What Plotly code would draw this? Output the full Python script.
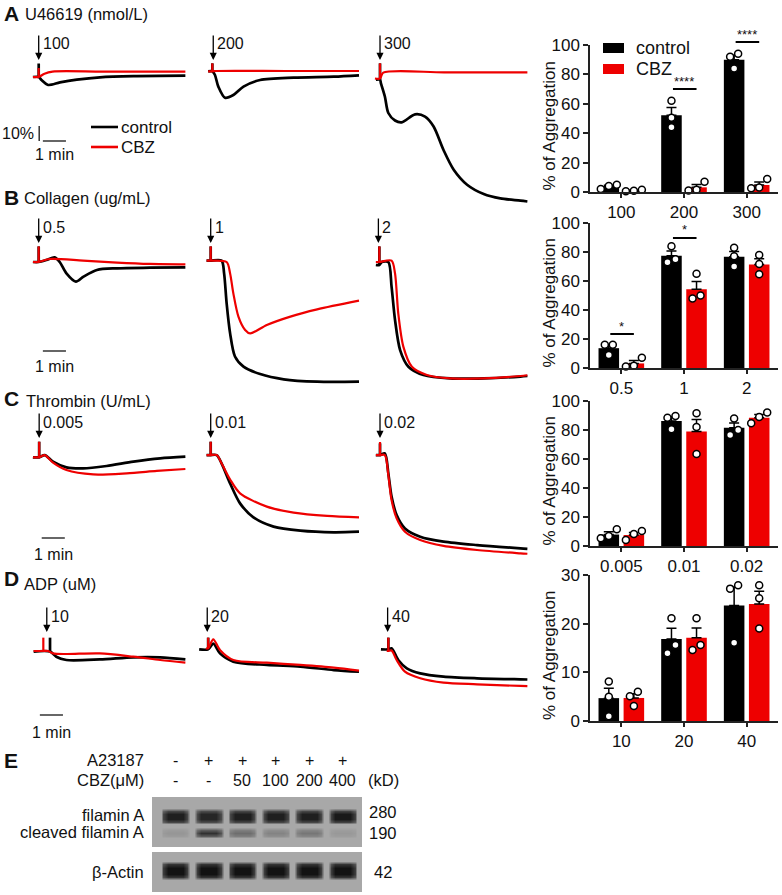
import numpy as np
import plotly.graph_objects as go

W, H = 782, 895
FONT = "Arial, Liberation Sans, sans-serif"
RED = "#EE0000"
BLACK = "#000000"

# ---------------- aggregation traces: time (min) and light-transmission change (%) ----------------
A1_ctrl_t = [0, 0.25, 0.37, 0.66, 1.17, 1.9, 2.9, 4.35, 6.6]
A1_ctrl_v = [0, 0, -2, -5.3, -3.6, -1.8, -0.2, 0.6, 0.9]
A1_cbz_t = [0, 0.25, 0.5, 0.85, 3.0, 6.6]
A1_cbz_v = [0, 0, 2.2, 3.6, 3.6, 3.6]

A2_ctrl_t = [0.14, 0.32, 0.43, 0.58, 0.87, 1.23, 1.67, 2.39, 3.84, 5.58, 6.67]
A2_ctrl_v = [3.8, 3.8, 1.5, -6.4, -13.8, -12, -6.4, -2, -0.4, 0.2, 1.1]
A2_cbz_t = [0.14, 0.32, 0.5, 3.5, 6.67]
A2_cbz_v = [3.8, 3.8, 4, 4, 4]

A3_ctrl_t = [0.04, 0.22, 0.26, 0.43, 0.58, 0.87, 1.16, 1.74, 2.17, 2.54, 2.97, 3.41, 3.99, 4.71, 5.43, 6.3, 6.6]
A3_ctrl_v = [-1.8, -1.8, -4.2, -13, -24, -29, -30.2, -24.9, -26.4, -33, -48.7, -61.8, -71.8, -78, -80.9, -82.4, -83]
A3_cbz_t = [0, 0.22, 0.36, 3.0, 6.6]
A3_cbz_v = [-1, -1, 2.9, 3.1, 3.1]

B1_ctrl_t = [0, 0.25, 0.58, 0.94, 1.16, 1.45, 1.86, 2.19, 2.77, 3.64, 5.07, 6.6]
B1_ctrl_v = [0, 0, 1.3, 3.1, 0, -7.6, -13.1, -9.8, -5.3, -4.2, -3.8, -3.6]
B1_cbz_t = [0, 0.25, 0.72, 2.17, 3.64, 5.07, 6.6]
B1_cbz_v = [0, 0, 2, 0.9, -0.4, -1.3, -1.6]

B2_ctrl_t = [0.07, 0.25, 0.72, 0.83, 0.94, 1.09, 1.3, 1.67, 2.39, 3.41, 4.86, 6.67]
B2_ctrl_v = [0.9, 0.9, 0.9, -7.6, -27.6, -47.6, -63, -69.8, -74.7, -78.2, -79.8, -79.8]
B2_cbz_t = [0.07, 0.25, 0.94, 1.09, 1.23, 1.45, 1.74, 1.96, 2.68, 3.7, 4.86, 6.67]
B2_cbz_v = [0.9, 0.9, 0, -7.6, -20.9, -36.4, -45.3, -47.6, -42, -36.4, -31.6, -25.8]

B3_ctrl_t = [0.04, 0.19, 0.3, 0.58, 0.72, 0.87, 1.09, 1.45, 2.1, 3.26, 4.71, 6.3, 6.6]
B3_ctrl_v = [-2, -2, 0, 0, -16.4, -38.7, -58.7, -69.8, -75.3, -77.6, -77.6, -76.4, -76]
B3_cbz_t = [0.04, 0.19, 0.72, 0.87, 1.01, 1.23, 1.6, 2.25, 3.26, 4.71, 6.3, 6.6]
B3_cbz_v = [0, 0, 0.9, -7.6, -34.2, -56.4, -69.8, -75.3, -77.6, -77.6, -76, -75.5]

C1_ctrl_t = [0, 0.27, 0.51, 0.87, 1.45, 2.17, 3.19, 4.35, 5.51, 6.6]
C1_ctrl_v = [-0.2, -0.2, 1.3, -3.1, -6.9, -7.6, -6, -3.1, -0.9, 0.2]
C1_cbz_t = [0, 0.27, 0.51, 0.87, 1.45, 2.61, 4.06, 5.36, 6.6]
C1_cbz_v = [-0.2, -0.2, 1.3, -3.8, -8.7, -11.6, -10.9, -9.3, -8]

C2_ctrl_t = [0.07, 0.25, 0.51, 0.72, 1.09, 1.52, 2.1, 2.97, 4.13, 5.58, 6.67]
C2_ctrl_v = [1.3, 1.3, 1.3, -4.2, -17.6, -30.9, -40.2, -46.4, -49.1, -50.2, -49.8]
C2_cbz_t = [0.07, 0.25, 0.51, 0.72, 1.09, 1.52, 2.68, 3.84, 5.29, 6.67]
C2_cbz_v = [1.3, 1.3, 1.3, -4.2, -15, -24.2, -33.1, -37.1, -39.3, -40.2]

C3_ctrl_t = [0.04, 0.22, 0.43, 0.58, 0.72, 0.94, 1.3, 1.96, 2.97, 4.42, 6.3, 6.6]
C3_ctrl_v = [1.3, 1.3, 2.4, -10.9, -26.4, -38.7, -47.6, -53.1, -56.4, -58.7, -60.9, -61.2]
C3_cbz_t = [0.04, 0.22, 0.43, 0.58, 0.72, 0.94, 1.3, 1.96, 2.97, 4.42, 6.3, 6.6]
C3_cbz_v = [1.3, 1.3, 1.3, -12, -28.7, -40.9, -49.8, -55.3, -59.3, -62, -64.2, -64.5]

D1_ctrl_t = [0.03, 0.74, 1.01, 1.45, 2.9, 4.35, 5.51, 6.6]
D1_ctrl_v = [-0.4, -0.4, -3.8, -6, -5.6, -4.2, -4.2, -5.6]
D1_cbz_t = [0.03, 0.45, 0.66, 0.87, 1.45, 2.9, 4.35, 5.51, 6.6]
D1_cbz_v = [0, 0, 0, -1.6, -2, -1.6, -3.8, -6, -7.8]

D2_ctrl_t = [-0.25, 0.14, 0.36, 0.65, 1.23, 2.68, 4.13, 5.58, 6.67]
D2_ctrl_v = [1.1, 1.1, 5.0, -1.6, -7.1, -9.3, -10.4, -12.7, -13.8]
D2_cbz_t = [0.04, 0.14, 0.36, 0.65, 1.23, 2.68, 4.13, 5.58, 6.67]
D2_cbz_v = [1.8, 1.8, 7.8, 0.7, -6, -7.8, -9.3, -11.1, -13.1]

D3_ctrl_t = [0.26, 0.58, 0.72, 1.01, 1.38, 1.96, 2.97, 4.42, 6.3, 6.6]
D3_ctrl_v = [1.1, 1.1, 1.8, -6, -11.6, -14.9, -17.1, -18.2, -18.9, -19]
D3_cbz_t = [0.51, 0.58, 0.72, 0.94, 1.3, 1.96, 2.97, 4.42, 6.3, 6.6]
D3_cbz_v = [0, 0, 0.4, -6, -13.8, -18.2, -21.1, -22.2, -23.3, -23.4]

# injection artefact spikes: (time, top value) for control / CBZ
spikes_ctrl = {"A1": (0.25, 9), "A2": (0.32, 9.1), "A3": (0.22, 9.1),
               "B1": (0.25, 10.4), "B2": (0.25, 10.4), "B3": (0.19, 10.4),
               "C1": (0.27, 10.2), "C2": (0.25, 10.2), "C3": (0.22, 9.1),
               "D1": (0.74, 8.9), "D2": (0.14, 8.9), "D3": (0.58, 8.9)}
spikes_cbz = {"A1": (0.25, 6), "A2": (0.32, 9.1), "A3": (0.22, 9.1),
              "B1": (0.25, 10.4), "B2": (0.25, 10.4), "B3": (0.19, 10.4),
              "C1": (0.27, 10.2), "C2": (0.25, 10.2), "C3": (0.22, 10),
              "D1": (0.45, 8.9), "D2": (0.14, 8.9), "D3": (0.58, 8.9)}
arrow_times = {"A": [0.25, 0.36, 0.22], "B": [0.25, 0.25, 0.15],
               "C": [0.27, 0.25, 0.22], "D": [0.6, 0.1, 0.55]}

row_titles = {"A": "U46619 (nmol/L)", "B": "Collagen (ug/mL)", "C": "Thrombin (U/mL)", "D": "ADP (uM)"}
dose_labels = {"A": ["100", "200", "300"], "B": ["0.5", "1", "2"],
               "C": ["0.005", "0.01", "0.02"], "D": ["10", "20", "40"]}
series_names = ["control", "CBZ"]

# ---------------- bar charts: individual % aggregation values (n = 3) ----------------
cats_A = ["100", "200", "300"]
ctrl_A = [[2, 5, 4], [62, 50.5, 44], [94, 92, 84]]
cbz_A = [[0.5, 1.5, 0.8], [1, 7, 1.5], [2.5, 8.8, 3]]

cats_B = ["0.5", "1", "2"]
ctrl_B = [[16, 9, 16], [73, 84, 75], [83, 77, 70]]
cbz_B = [[1, 7, 1.5], [48, 65, 50], [78, 71.7, 64.6]]

cats_C = ["0.005", "0.01", "0.02"]
ctrl_C = [[5.3, 11.5, 6.9], [89.7, 88.5, 80.5], [88, 80, 76.5]]
cbz_C = [[4.1, 10.3, 8.3], [91.5, 82, 63.5], [92, 89, 84.6]]

cats_D = ["10", "20", "40"]
ctrl_D = [[8.1, 5, 1], [21.1, 13.9, 15.6], [27.9, 27.2, 16.1]]
cbz_D = [[6, 5.1, 3.1], [21.1, 14.6, 15.6], [27.9, 25.2, 19]]

# significance marks: (group index, label, bar-line level in % aggregation)
sig_A = [(1, "****", 70), (2, "****", 102)]
sig_B = [(0, "*", 23.4), (1, "*", 89.7)]

# ---------------- western blot (E) ----------------
lanes_A23187 = ["-", "+", "+", "+", "+", "+"]
lanes_CBZ = ["-", "-", "50", "100", "200", "400"]
band_filamin = [0.92, 0.88, 0.92, 0.92, 0.92, 0.96]
band_cleaved = [0.14, 0.82, 0.45, 0.28, 0.38, 0.12]
band_actin = [1.0, 1.0, 1.0, 1.0, 1.0, 1.0]

# =====================================================================
def PX(x):
    return x / W


def PY(y):
    return 1 - y / H


fig = go.Figure()
layout = {}
annotations = []
shapes = []


def add_axes(n, xd, yd, xr, yr, xkw=None, ykw=None):
    s = "" if n == 1 else str(n)
    xa = dict(domain=[PX(xd[0]), PX(xd[1])], range=xr, anchor="y" + s, visible=False,
              showgrid=False, zeroline=False, fixedrange=True, automargin=False)
    ya = dict(domain=[PY(yd[1]), PY(yd[0])], range=yr, anchor="x" + s, visible=False,
              showgrid=False, zeroline=False, fixedrange=True, automargin=False)
    if xkw:
        xa.update(xkw)
    if ykw:
        ya.update(ykw)
    layout["xaxis" + s] = xa
    layout["yaxis" + s] = ya
    return "x" + s, "y" + s


# ---------------- trace panels ----------------
ROWS = {"A": (77, 30, 208), "B": (262, 215, 392), "C": (457, 405, 565), "D": (651, 590, 745)}
COLS = [(26, 190), (198, 362), (368, 532)]
T_RANGE = [-0.3, 6.8]
PPP = 1.5  # px per %
ARROW_TIP = {"A": 60, "B": 243, "C": 438, "D": 632}
g = globals()

axis_n = 0
row_axes = {}
for r, (base, top, bot) in ROWS.items():
    yr = [-(bot - base) / PPP, (base - top) / PPP]
    for c in range(3):
        axis_n += 1
        xa, ya = add_axes(axis_n, COLS[c], (top, bot), T_RANGE, yr)
        row_axes[(r, c)] = (xa, ya)
        key = f"{r}{c + 1}"
        for kind, color, width, name, sp in [("ctrl", BLACK, 2.7, "control", spikes_ctrl),
                                             ("cbz", RED, 2.2, "CBZ", spikes_cbz)]:
            t = g[f"{key}_{kind}_t"]
            v = g[f"{key}_{kind}_v"]
            st, sv = sp[key]
            fig.add_trace(go.Scatter(x=[st, st], y=[float(np.interp(st, t, v)), sv], mode="lines",
                                     line=dict(color=color, width=width), xaxis=xa, yaxis=ya,
                                     showlegend=False, hoverinfo="skip"))
            fig.add_trace(go.Scatter(x=t, y=v, mode="lines",
                                     line=dict(color=color, width=width, shape="spline", smoothing=0.8),
                                     xaxis=xa, yaxis=ya, name=name, showlegend=False))
        # stimulus arrow + dose label
        at = arrow_times[r][c]
        tip = ARROW_TIP[r]
        annotations.append(dict(x=at, xref=xa, y=PY(tip), yref="paper", text="", showarrow=True,
                                ax=0, ay=-26, arrowhead=2, arrowsize=1.1, arrowwidth=1.3,
                                arrowcolor=BLACK))
        annotations.append(dict(x=at, xref=xa, y=PY(tip - 16), yref="paper", text=dose_labels[r][c],
                                showarrow=False, xanchor="left", yanchor="middle", xshift=2,
                                font=dict(size=16)))

# panel letters and titles
for letter, ly, tx, ty in [("A", 13, 23, 14), ("B", 197, 22, 198), ("C", 399, 24, 401),
                           ("D", 578, 22, 584), ("E", 760, None, None)]:
    annotations.append(dict(x=PX(2), y=PY(ly), xref="paper", yref="paper", text=f"<b>{letter}</b>",
                            showarrow=False, xanchor="left", yanchor="middle", font=dict(size=21)))
    if tx is not None:
        annotations.append(dict(x=PX(tx), y=PY(ty), xref="paper", yref="paper", text=row_titles[letter],
                                showarrow=False, xanchor="left", yanchor="middle", font=dict(size=16.5)))

# scale bars (1 min, 10 %)
SB = {"A": (0.43, 141, 155), "B": (0.43, 351, 367), "C": (0.38, 538, 554), "D": (0.3, 715, 732)}
for r, (t0, ypx, typx) in SB.items():
    base = ROWS[r][0]
    xa, ya = row_axes[(r, 0)]
    yv = (base - ypx) / PPP
    shapes.append(dict(type="line", xref=xa, yref=ya, x0=t0, x1=t0 + 1, y0=yv, y1=yv,
                       line=dict(color=BLACK, width=1.2)))
    annotations.append(dict(x=t0 + 0.5, xref=xa, y=PY(typx), yref="paper", text="1 min",
                            showarrow=False, xanchor="center", yanchor="middle", font=dict(size=16)))
    if r == "A":
        shapes.append(dict(type="line", xref=xa, yref=ya, x0=0.27, x1=0.27, y0=yv, y1=yv + 10,
                           line=dict(color=BLACK, width=1.2)))
        annotations.append(dict(x=PX(36), y=PY(133), xref="paper", yref="paper", text="10%",
                                showarrow=False, xanchor="right", yanchor="middle", font=dict(size=16)))

# trace legend (line swatches) in panel A
for i, (nm, col) in enumerate(zip(series_names, [BLACK, RED])):
    yy = 127 + 20 * i
    shapes.append(dict(type="line", xref="paper", yref="paper", x0=PX(91), x1=PX(118),
                       y0=PY(yy), y1=PY(yy), line=dict(color=col, width=2.6)))
    annotations.append(dict(x=PX(119), y=PY(yy), xref="paper", yref="paper", text=nm, showarrow=False,
                            xanchor="left", yanchor="middle", font=dict(size=17)))

# ---------------- bar charts ----------------
BAR_X = (590, 778)
BARS = {"A": ((45, 192), 100, [0, 20, 40, 60, 80, 100], cats_A, ctrl_A, cbz_A, sig_A),
        "B": ((223, 368), 100, [0, 20, 40, 60, 80, 100], cats_B, ctrl_B, cbz_B, sig_B),
        "C": ((401, 546), 100, [0, 20, 40, 60, 80, 100], cats_C, ctrl_C, cbz_C, []),
        "D": ((575, 721), 30, [0, 10, 20, 30], cats_D, ctrl_D, cbz_D, [])}
OFF = 0.2
X_PX_UNIT = (BAR_X[1] - BAR_X[0]) / 3.0


def swarm(vals, ypx_unit, thresh=8.6, step=8.0):
    vals = np.asarray(vals, float)
    order = np.argsort(vals)
    offs = np.zeros(len(vals))
    clusters, cur = [], [order[0]]
    for a, b in zip(order[:-1], order[1:]):
        if (vals[b] - vals[a]) * ypx_unit < thresh:
            cur.append(b)
        else:
            clusters.append(cur)
            cur = [b]
    clusters.append(cur)
    for cl in clusters:
        n = len(cl)
        for k, idx in enumerate(cl):
            offs[idx] = (k - (n - 1) / 2) * step / X_PX_UNIT
    return offs


for r, (yd, ymax, tv, cats, ctrl, cbz, sig) in BARS.items():
    axis_n += 1
    xa, ya = add_axes(axis_n, BAR_X, yd, [-0.5, 2.5], [0, ymax],
                      xkw=dict(visible=True, showline=True, linecolor="#222", linewidth=1.5,
                               ticks="outside", ticklen=4, tickwidth=1.5, tickcolor="#222",
                               tickvals=[0, 1, 2], ticktext=cats, tickfont=dict(size=17)),
                      ykw=dict(visible=True, showline=True, linecolor="#222", linewidth=1.5,
                               ticks="outside", ticklen=5, tickwidth=1.5, tickcolor="#222",
                               tickvals=tv, tickfont=dict(size=17)))
    ypx_unit = (yd[1] - yd[0]) / ymax
    for series, color, name, sgn in [(ctrl, BLACK, "control", -1), (cbz, RED, "CBZ", 1)]:
        means = [float(np.mean(p)) for p in series]
        sems = [float(np.std(p, ddof=1) / np.sqrt(len(p))) for p in series]
        fig.add_trace(go.Bar(x=[0, 1, 2], y=means, marker=dict(color=color, line=dict(width=0)),
                             error_y=dict(type="data", array=sems, arrayminus=[0] * 3, symmetric=False,
                                          color=BLACK, thickness=1.5, width=5),
                             xaxis=xa, yaxis=ya, name=name, showlegend=False))
        px_, py_ = [], []
        for gi, pts in enumerate(series):
            offs = swarm(pts, ypx_unit)
            for v, o in zip(pts, offs):
                px_.append(gi + sgn * OFF + o)
                py_.append(v)
        fig.add_trace(go.Scatter(x=px_, y=py_, mode="markers", cliponaxis=False,
                                 marker=dict(symbol="circle", size=7, color="white",
                                             line=dict(color=BLACK, width=1.5)),
                                 xaxis=xa, yaxis=ya, showlegend=False, hoverinfo="skip"))
    annotations.append(dict(x=PX(549), y=PY((yd[0] + yd[1]) / 2 + 8), xref="paper", yref="paper",
                            text="% of Aggregation", textangle=-90, showarrow=False,
                            font=dict(size=17), xanchor="center", yanchor="middle"))
    # significance marks (may sit above the axis top, so placed in paper coordinates)
    for gi, stars, yl in sig:
        ypaper = PY(yd[1] - yl * ypx_unit)
        annotations.append(dict(x=gi + 0.2, y=ypaper, xref=xa, yref="paper", ax=-0.4 * X_PX_UNIT, ay=0,
                                text="", showarrow=True, arrowhead=0,
                                arrowwidth=2, arrowcolor=BLACK, standoff=0, startstandoff=0))
        annotations.append(dict(x=gi, y=ypaper, xref=xa, yref="paper", text=stars, showarrow=False,
                                yanchor="middle", yshift=8, borderpad=0, font=dict(size=13)))

# bar legend (swatches) in panel A bar chart
for i, (nm, col) in enumerate(zip(series_names, [BLACK, RED])):
    yy = 48 + 21 * i
    shapes.append(dict(type="rect", xref="paper", yref="paper", x0=PX(603), x1=PX(624),
                       y0=PY(yy + 5), y1=PY(yy - 5), fillcolor=col, line=dict(width=0)))
    annotations.append(dict(x=PX(634), y=PY(yy), xref="paper", yref="paper", text=nm, showarrow=False,
                            xanchor="left", yanchor="middle", font=dict(size=18)))

# ---------------- western blot ----------------
BLOT_X = (152, 362)
BLOT_XR = [0.3, 6.58]
col_spec = [(None, 0.0, 0.32)]
for i in range(6):
    for off, f in [(-0.44, 0.0), (-0.36, 0.75), (-0.22, 1.0), (0.0, 1.0), (0.22, 1.0), (0.36, 0.75), (0.44, 0.0)]:
        col_spec.append((i, f, i + 1 + off))
col_spec.append((None, 0.0, 6.56))
xs = [c[2] for c in col_spec]

bands = {"fil": band_filamin, "clv": band_cleaved, "act": band_actin}
box1_rows = [(0.5, None, 0), (11, None, 0), (13.5, "fil", 0.75), (16.5, "fil", 1.0), (21.5, "fil", 1.0),
             (24.5, "fil", 0.75), (27, None, 0), (30, None, 0), (32.5, "clv", 0.7), (35.5, "clv", 1.0),
             (38.5, "clv", 0.7), (41, None, 0), (49.5, None, 0)]
box2_rows = [(0.5, None, 0), (9, None, 0), (12, "act", 0.8), (15.5, "act", 1.0), (21.5, "act", 1.0),
             (25, "act", 0.8), (28, None, 0), (39.5, None, 0)]


def blot_z(rows):
    z = []
    for y, band, fr in rows:
        row = []
        for lane, fc, _ in col_spec:
            row.append(0.0 if (band is None or lane is None) else fr * fc * bands[band][lane])
        z.append(row)
    return z


CS = [[0, "#a8a8a8"], [0.5, "#666666"], [1, "#121212"]]
for yd, rows, hgt in [((797, 847), box1_rows, 50), ((852, 892), box2_rows, 40)]:
    axis_n += 1
    xa, ya = add_axes(axis_n, BLOT_X, yd, BLOT_XR, [hgt, 0])
    fig.add_trace(go.Heatmap(x=xs, y=[r_[0] for r_ in rows], z=blot_z(rows), colorscale=CS,
                             zmin=0, zmax=1, zsmooth="best", showscale=False, xaxis=xa, yaxis=ya,
                             hoverinfo="skip"))
blot_xa = "x" + str(axis_n)

for i in range(6):
    annotations.append(dict(x=i + 1, xref=blot_xa, y=PY(760), yref="paper", text=lanes_A23187[i],
                            showarrow=False, font=dict(size=16), xanchor="center", yanchor="middle"))
    annotations.append(dict(x=i + 1, xref=blot_xa, y=PY(780), yref="paper", text=lanes_CBZ[i],
                            showarrow=False, font=dict(size=16), xanchor="center", yanchor="middle"))
for txt, yy in [("A23187", 760), ("CBZ(μM)", 780), ("filamin A", 815), ("cleaved filamin A", 832),
                ("β-Actin", 872)]:
    annotations.append(dict(x=PX(146), y=PY(yy), xref="paper", yref="paper", text=txt, showarrow=False,
                            font=dict(size=16.5), xanchor="right", yanchor="middle"))
for txt, yy in [("(kD)", 780), ("280", 812), ("190", 833), ("42", 872)]:
    annotations.append(dict(x=PX(383), y=PY(yy), xref="paper", yref="paper", text=txt, showarrow=False,
                            font=dict(size=16.5), xanchor="center", yanchor="middle"))

fig.update_layout(**layout)
fig.update_layout(
    width=W, height=H, margin=dict(l=0, r=0, t=0, b=0, autoexpand=False),
    paper_bgcolor="white", plot_bgcolor="rgba(0,0,0,0)",
    font=dict(family=FONT, color="#111", size=16),
    barmode="group", bargap=0.2, bargroupgap=0.18,
    annotations=annotations, shapes=shapes,
    showlegend=False,
)
fig.write_html("out.html", config={"displayModeBar": False},
               post_script="document.body.style.margin='0px';")
